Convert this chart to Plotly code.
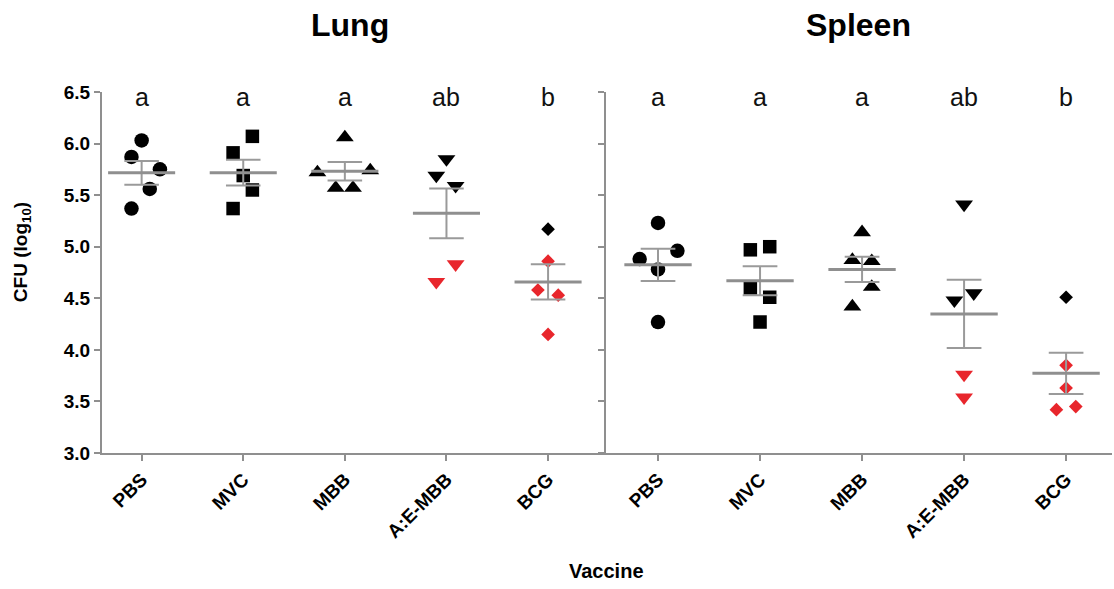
import numpy as np
import plotly.graph_objects as go

categories = ["PBS", "MVC", "MBB", "A:E-MBB", "BCG"]
letters = ["a", "a", "a", "ab", "b"]
symbols = ["circle", "square", "triangle-up", "triangle-down", "diamond"]

# Lung CFU (log10)
lung_pbs = [6.03, 5.87, 5.75, 5.56, 5.37]
lung_mvc = [6.07, 5.91, 5.69, 5.55, 5.37]
lung_mbb = [6.06, 5.72, 5.57, 5.57, 5.74]
lung_aembb = [5.85, 5.69, 5.59, 4.83, 4.66]
lung_bcg = [5.17, 4.86, 4.58, 4.53, 4.15]

# Spleen CFU (log10)
spleen_pbs = [5.23, 4.96, 4.88, 4.78, 4.27]
spleen_mvc = [4.97, 5.00, 4.60, 4.51, 4.27]
spleen_mbb = [5.14, 4.87, 4.42, 4.86, 4.61]
spleen_aembb = [5.41, 4.48, 4.55, 3.76, 3.54]
spleen_bcg = [4.51, 3.85, 3.63, 3.42, 3.45]

# red highlight flags (style)
flag_none = [0, 0, 0, 0, 0]
flag_aembb = [0, 0, 0, 1, 1]
flag_bcg = [0, 1, 1, 1, 1]

# horizontal scatter offsets (category units, style)
lung_offsets = [
    [0, -0.1, 0.18, 0.08, -0.1],
    [0.09, -0.1, 0, 0.09, -0.1],
    [0, -0.27, -0.09, 0.08, 0.25],
    [0, -0.1, 0.09, 0.09, -0.1],
    [0, 0, -0.1, 0.1, 0],
]
spleen_offsets = [
    [0, 0.19, -0.18, 0, 0],
    [-0.095, 0.095, -0.095, 0.095, 0],
    [0, -0.095, -0.095, 0.095, 0.095],
    [0, -0.095, 0.095, 0, 0],
    [0, 0, 0, -0.095, 0.095],
]

lung = [lung_pbs, lung_mvc, lung_mbb, lung_aembb, lung_bcg]
spleen = [spleen_pbs, spleen_mvc, spleen_mbb, spleen_aembb, spleen_bcg]
flags = [flag_none, flag_none, flag_none, flag_aembb, flag_bcg]

BLACK = "#000000"
RED = "#e8262c"
GRAY = "#8f8f8f"
FONT = "Liberation Sans, Arial"
sizes = {"circle": 14.5, "square": 13.5, "triangle-up": 15.5, "triangle-down": 15.5, "diamond": 10.5}

fig = go.Figure()

def add_panel(groups, offsets, xa, ya):
    for i, vals in enumerate(groups):
        xs = [i + o for o in offsets[i]]
        cols = [RED if f else BLACK for f in flags[i]]
        fig.add_trace(go.Scatter(
            x=xs, y=vals, mode="markers", xaxis=xa, yaxis=ya,
            marker=dict(symbol=symbols[i], size=sizes[symbols[i]], color=cols,
                        line=dict(width=0)),
            showlegend=False, hoverinfo="y"))
    mx, my, ex, ey = [], [], [], []
    for i, vals in enumerate(groups):
        v = np.array(vals)
        m = v.mean()
        s = v.std(ddof=1) / np.sqrt(len(v))
        mx += [i - 0.33, i + 0.33, None]
        my += [m, m, None]
        ex += [i, i, None, i - 0.17, i + 0.17, None, i - 0.17, i + 0.17, None]
        ey += [m - s, m + s, None, m + s, m + s, None, m - s, m - s, None]
    fig.add_trace(go.Scatter(x=ex, y=ey, mode="lines", xaxis=xa, yaxis=ya,
                             line=dict(color="#9a9a9a", width=2),
                             showlegend=False, hoverinfo="skip"))
    fig.add_trace(go.Scatter(x=mx, y=my, mode="lines", xaxis=xa, yaxis=ya,
                             line=dict(color=GRAY, width=3),
                             showlegend=False, hoverinfo="skip"))
    for i, t in enumerate(letters):
        fig.add_annotation(x=i, y=6.45, xref=xa, yref=ya, text=t, showarrow=False,
                           xanchor="center", yanchor="middle",
                           font=dict(family=FONT, size=25, color="#111"))

add_panel(lung, lung_offsets, "x", "y")
add_panel(spleen, spleen_offsets, "x2", "y2")

axis_font = dict(family=FONT, size=19, color="#000")
xcommon = dict(tickmode="array", tickvals=list(range(5)), ticktext=[f"<b>{c}</b>" for c in categories],
               tickangle=-45, ticks="outside", ticklen=6, tickwidth=2, tickcolor=GRAY,
               showline=True, linecolor=GRAY, linewidth=2, showgrid=False, zeroline=False,
               tickfont=axis_font, fixedrange=True)
ytickvals = [3.0, 3.5, 4.0, 4.5, 5.0, 5.5, 6.0, 6.5]
ycommon = dict(range=[3.0, 6.5], tickmode="array", tickvals=ytickvals,
               ticks="outside", ticklen=6, tickwidth=2, tickcolor=GRAY,
               showline=True, linecolor=GRAY, linewidth=2, showgrid=False, zeroline=False,
               fixedrange=True)

fig.update_layout(
    width=1114, height=589,
    margin=dict(l=102, r=2, t=92, b=136),
    paper_bgcolor="white", plot_bgcolor="white",
    xaxis=dict(domain=[0, 0.499], range=[-0.39, 4.57], anchor="y", **xcommon),
    xaxis2=dict(domain=[0.499, 1], range=[-0.51, 4.45], anchor="y2", **xcommon),
    yaxis=dict(anchor="x", ticktext=[f"<b>{v:.1f}</b>" for v in ytickvals],
               tickfont=dict(family=FONT, size=19, color="#000"), **ycommon),
    yaxis2=dict(anchor="x2", showticklabels=False, **ycommon),
)

fig.add_annotation(x=0.2455, y=1.186, xref="paper", yref="paper", text="<b>Lung</b>",
                   showarrow=False, xanchor="center", yanchor="middle",
                   font=dict(family=FONT, size=32, color="#000"))
fig.add_annotation(x=0.7495, y=1.186, xref="paper", yref="paper", text="<b>Spleen</b>",
                   showarrow=False, xanchor="center", yanchor="middle",
                   font=dict(family=FONT, size=32, color="#000"))
fig.add_annotation(x=0.4995, y=-0.327, xref="paper", yref="paper", text="<b>Vaccine</b>",
                   showarrow=False, xanchor="center", yanchor="middle",
                   font=dict(family=FONT, size=20, color="#000"))
fig.add_annotation(x=-0.079, y=0.557, xref="paper", yref="paper",
                   text="<b>CFU (log<sub>10</sub>)</b>", textangle=-90,
                   showarrow=False, xanchor="center", yanchor="middle",
                   font=dict(family=FONT, size=19, color="#000"))

fig.write_html("out.html")
